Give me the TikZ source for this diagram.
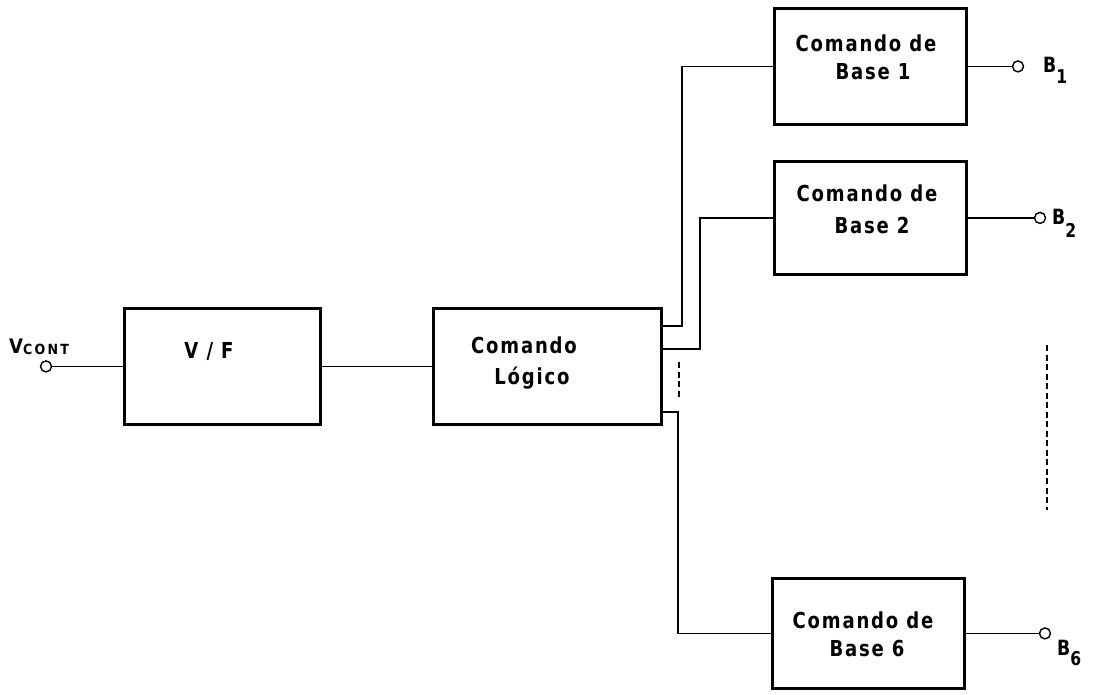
\documentclass[tikz,border=0pt]{standalone}
\usepackage{fontspec}
\usepackage{graphicx}
\setmainfont{DejaVu Sans}
\newfontfamily\lett[LetterSpace=10]{DejaVu Sans}
\newfontfamily\lettw[LetterSpace=18]{DejaVu Sans}
\newcommand{\nar}[1]{\scalebox{0.82}[1]{#1}}
\begin{document}
\begin{tikzpicture}[x=1pt,y=-1pt,
  box/.style={draw, line width=2.8pt, inner sep=0pt, anchor=north west},
  wire/.style={line width=1.2pt},
  dline/.style={line width=1.6pt, dash pattern=on 6pt off 3.5pt},
  term/.style={draw, circle, line width=1.4pt, inner sep=0pt, minimum size=11pt, fill=white},
  txt/.style={font=\lett\bfseries\fontsize{22}{24}\selectfont, inner sep=0pt},
  blab/.style={font=\bfseries\fontsize{21}{22}\selectfont, inner sep=0pt, anchor=base west}
]
\useasboundingbox (0,0) rectangle (1107,694);

% boxes
\node[box, minimum width=196pt, minimum height=116pt] (vf) at (123,307) {};
\node[box, minimum width=228pt, minimum height=116pt] (cl) at (432,307) {};
\node[box, minimum width=192pt, minimum height=116pt] (b1) at (773,7) {};
\node[box, minimum width=192pt, minimum height=113pt] (b2) at (773,160) {};
\node[box, minimum width=192pt, minimum height=110pt] (b6) at (771,577) {};

% texts
\node[txt] (tvf) at (209,351) {\nar{V / F}};
\node[txt] (tcl1) at (524,345) {\nar{Comando}};
\node[txt] (tcl2) at (532,378) {\nar{Lógico}};
\node[txt] (tb11) at (866,43) {\nar{Comando de}};
\node[txt] (tb12) at (873,72) {\nar{Base 1}};
\node[txt] (tb21) at (867,193) {\nar{Comando de}};
\node[txt] (tb22) at (872,225) {\nar{Base 2}};
\node[txt] (tb61) at (863,620) {\nar{Comando de}};
\node[txt] (tb62) at (867,648) {\nar{Base 6}};

% input terminal
\node[term] (vin) at (vf.west -| 46,0) {};
\node[anchor=base west, inner sep=0pt] (vlab) at (9,353)
  {\scalebox{0.9}[1]{\fontsize{20}{22}\selectfont\bfseries V\raisebox{-1.5pt}{\lettw\bfseries\fontsize{14}{15}\selectfont CONT}}};

% output terminals
\node[term] (t1) at (b1.east -| 1018,0) {};
\node[term] (t2) at (b2.east -| 1040,0) {};
\node[term] (t6) at (b6.east -| 1045,0) {};
\node[blab] (l1) at (1043,72) {\nar{B\raisebox{-11pt}{\fontsize{19}{20}\selectfont 1}}};
\node[blab] (l2) at (1052,224) {\nar{B\raisebox{-13pt}{\fontsize{19}{20}\selectfont 2}}};
\node[blab] (l6) at (1057,655) {\nar{B\raisebox{-10pt}{\fontsize{19}{20}\selectfont 6}}};

% connectors
\draw[wire] (vin) -- (vf.west);
\draw[wire] (vf.east) -- (cl.west);
\draw[wire] (b1.west) -| (682,326) -- (cl.east |- 0,326);
\draw[wire] (b2.west) -| (700,349) -- (cl.east |- 0,349);
\draw[wire] (b6.west) -| (678,412) -- (cl.east |- 0,412);
\draw[wire] (b1.east) -- (t1);
\draw[wire] (b2.east) -- (t2);
\draw[wire] (b6.east) -- (t6);

% ellipsis dashes
\coordinate (d1a) at (679,362);
\coordinate (d1b) at (679,397);
\coordinate (d2a) at (1047,345);
\coordinate (d2b) at (1047,510);
\draw[dline] (d1a) -- (d1b);
\draw[dline] (d2a) -- (d2b);
\end{tikzpicture}
\end{document}
